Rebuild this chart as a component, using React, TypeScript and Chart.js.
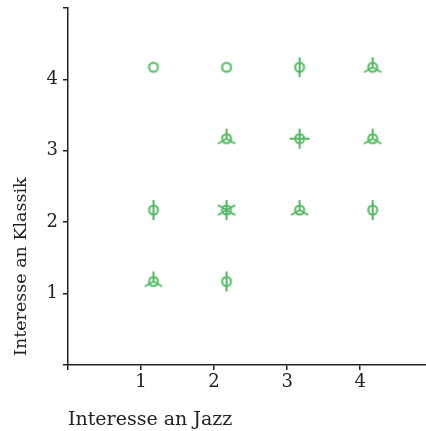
import React, { useEffect, useRef } from 'react';
import { Chart, registerables } from 'chart.js';
Chart.register(...registerables);

// Sunflower plot data: rating pairs and the number of observations at each pair
const jazz = [1, 2, 3, 4, 2, 3, 4, 1, 2, 3, 4, 1, 2];
const klassik = [4, 4, 4, 4, 3, 3, 3, 2, 2, 2, 2, 1, 1];
const counts = [1, 1, 2, 3, 3, 4, 3, 2, 6, 3, 2, 3, 2];
const tickValues = [1, 2, 3, 4];
const xTickMarks = [0, 1, 2, 3, 4];
const yTickMarks = [0, 1, 2, 3, 4, 5];
const xTitle = 'Interesse an Jazz';
const yTitle = 'Interesse an Klassik';

const COLOR = '#4fba5f';
const AXIS = '#222222';
const FONT = 'DejaVu Serif';
const OFFSET = 0.17;

function sunflower(n: number): HTMLCanvasElement {
  const c = document.createElement('canvas');
  c.width = 28;
  c.height = 28;
  const ctx = c.getContext('2d')!;
  ctx.strokeStyle = COLOR;
  ctx.lineWidth = 2;
  ctx.beginPath();
  ctx.arc(14, 14, 4.5, 0, Math.PI * 2);
  ctx.stroke();
  if (n > 1) {
    ctx.beginPath();
    for (let k = 0; k < n; k++) {
      const a = Math.PI / 2 + (2 * Math.PI * k) / n;
      ctx.moveTo(14, 14);
      ctx.lineTo(14 + 10 * Math.cos(a), 14 - 10 * Math.sin(a));
    }
    ctx.stroke();
  }
  return c;
}

const yTitlePlugin = {
  id: 'yTitlePlugin',
  afterDraw(chart: any) {
    const { ctx, chartArea } = chart;
    ctx.save();
    ctx.translate(21, chartArea.bottom - 9);
    ctx.rotate(-Math.PI / 2);
    ctx.textAlign = 'left';
    ctx.textBaseline = 'middle';
    ctx.font = `17.5px "${FONT}"`;
    ctx.fillStyle = AXIS;
    ctx.fillText(yTitle, 0, 0);
    ctx.restore();
  },
};

export default function App() {
  const ref = useRef<HTMLCanvasElement>(null);
  useEffect(() => {
    document.body.style.margin = '0';
    const points = jazz.map((x, i) => ({ x: x + OFFSET, y: klassik[i] + OFFSET }));
    const styles = counts.map((n) => sunflower(n));
    const shown = (v: any) => tickValues.includes(Number(v));
    const label = (v: any) => (shown(v) ? String(v) : '');
    const tickFont = (ctx: any) =>
      ctx.tick && shown(ctx.tick.value) ? { family: FONT, size: 18 } : { family: FONT, size: 1 };
    const chart = new Chart(ref.current!, {
      type: 'scatter',
      data: {
        datasets: [
          {
            data: points,
            pointStyle: styles as any,
            pointRadius: 6,
            borderColor: COLOR,
            backgroundColor: COLOR,
          },
        ],
      },
      plugins: [yTitlePlugin],
      options: {
        animation: false,
        responsive: false,
        layout: { autoPadding: false, padding: { top: 8, left: 41.5, right: 0, bottom: 0 } },
        plugins: { legend: { display: false }, tooltip: { enabled: false } },
        scales: {
          x: {
            type: 'linear',
            min: 0,
            max: 4.9,
            afterBuildTicks: (scale: any) => {
              scale.ticks = xTickMarks.map((v) => ({ value: v }));
            },
            border: { display: true, color: AXIS, width: 1.5 },
            grid: { drawOnChartArea: false, drawTicks: true, tickLength: 5, color: AXIS, lineWidth: 1.5 },
            ticks: { padding: 2, color: AXIS, font: tickFont as any, callback: label, maxRotation: 0, autoSkip: false },
            title: { display: true, text: xTitle, align: 'start', color: AXIS, font: { family: FONT, size: 19 }, padding: { top: 12.6, bottom: 0 } },
          },
          y: {
            type: 'linear',
            min: 0,
            max: 5,
            afterBuildTicks: (scale: any) => {
              scale.ticks = yTickMarks.map((v) => ({ value: v }));
            },
            border: { display: true, color: AXIS, width: 1.5 },
            grid: { drawOnChartArea: false, drawTicks: true, tickLength: 5, color: AXIS, lineWidth: 1.5 },
            ticks: { padding: 5, color: AXIS, font: tickFont as any, callback: label, autoSkip: false },
          },
        },
      },
    });
    return () => chart.destroy();
  }, []);
  return <canvas ref={ref} width={426} height={431} style={{ display: 'block' }} />;
}
